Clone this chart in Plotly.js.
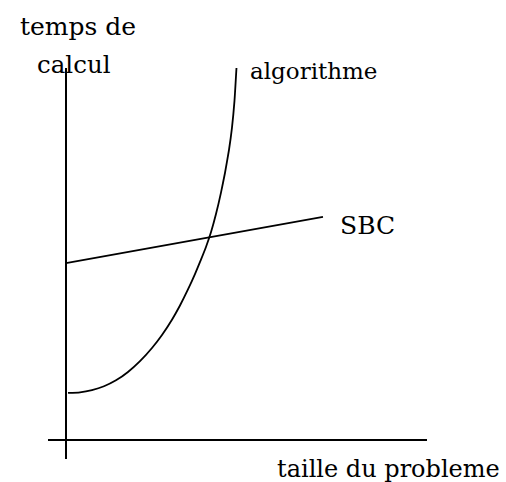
<!DOCTYPE html>
<html>
<head>
<meta charset="utf-8">
<script src="https://cdn.plot.ly/plotly-3.0.1.min.js"></script>
<style>html,body{margin:0;padding:0;background:#fff;}#chart{width:506px;height:482px;}</style>
</head>
<body>
<div id="chart"></div>
<script>
// Schematic values (arbitrary units: problem size vs computing time)
const algoSize = [0.056, 0.389, 0.722, 1.056, 1.389, 1.722, 2.056, 2.389, 2.667, 2.944, 3.167, 3.389, 3.583, 3.750, 3.889, 4.028, 4.167, 4.306, 4.417, 4.528, 4.611, 4.681, 4.742];
const algoTime = [1.270, 1.289, 1.349, 1.451, 1.611, 1.838, 2.130, 2.486, 2.838, 3.250, 3.634, 4.066, 4.482, 4.872, 5.214, 5.611, 6.103, 6.684, 7.214, 7.835, 8.435, 9.162, 10.143];
const sbcSize = [0, 7.14];
const sbcTime = [4.78, 6.03];
const labels = {
  yTitle1: "temps de",
  yTitle2: "calcul",
  xTitle: "taille du probleme",
  algo: "algorithme",
  sbc: "SBC"
};

const font = {family: "DejaVu Serif", size: 24, color: "#000"};
const traces = [
  {x: algoSize, y: algoTime, mode: "lines", line: {color: "#000", width: 1.8, shape: "spline", smoothing: 0.5}, cliponaxis: false, hoverinfo: "skip"},
  {x: sbcSize, y: sbcTime, mode: "lines", line: {color: "#000", width: 1.8}, cliponaxis: false, hoverinfo: "skip"}
];
function ann(text, x, y, size) {
  return {text: text, xref: "paper", yref: "paper", x: x, y: y, xanchor: "left", yanchor: "middle",
          showarrow: false, font: Object.assign({}, font, {size: size || 24})};
}
const layout = {
  width: 506, height: 482,
  margin: {l: 48, r: 79, t: 68, b: 23},
  paper_bgcolor: "#fff", plot_bgcolor: "#fff",
  showlegend: false,
  xaxis: {range: [-0.5, 10.03], showgrid: false, showticklabels: false, ticks: "", showline: false,
          zeroline: true, zerolinecolor: "#000", zerolinewidth: 2.2, fixedrange: true},
  yaxis: {range: [-0.514, 10.05], showgrid: false, showticklabels: false, ticks: "", showline: false,
          zeroline: true, zerolinecolor: "#000", zerolinewidth: 2.2, fixedrange: true},
  annotations: [
    ann(labels.yTitle1, -0.080, 1.107, 25),
    ann(labels.yTitle2, -0.033, 1.010, 24.5),
    ann(labels.algo, 0.529, 0.992, 23),
    ann(labels.sbc, 0.764, 0.598, 25),
    ann(labels.xTitle, 0.598, -0.0256)
  ]
};
Plotly.newPlot("chart", traces, layout, {staticPlot: true, displayModeBar: false});
</script>
</body>
</html>
